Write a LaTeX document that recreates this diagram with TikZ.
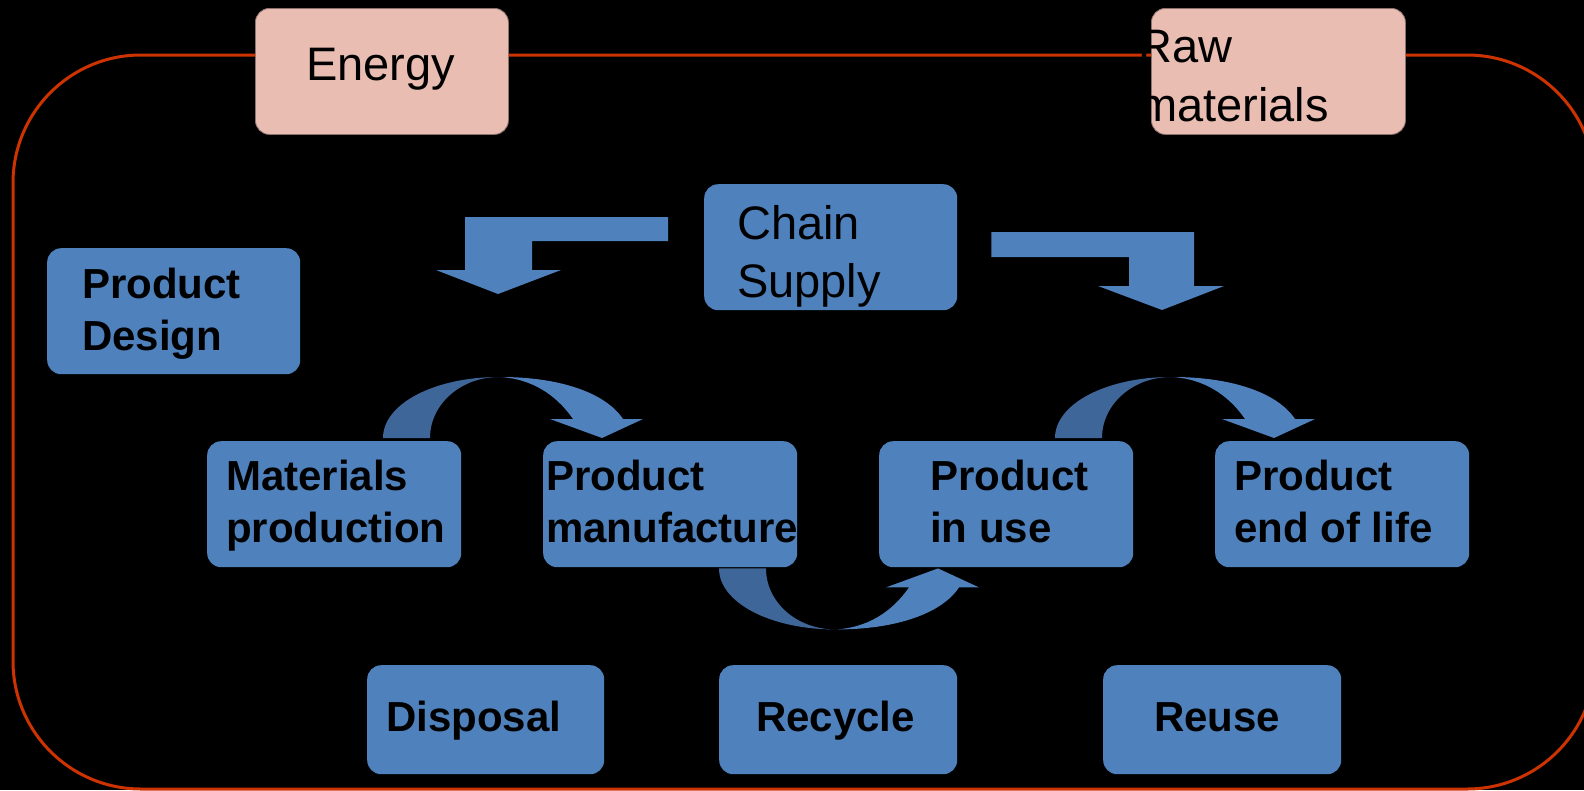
\documentclass[tikz,border=0pt]{standalone}
\usepackage{fontspec}
\setmainfont{Liberation Sans}
\usetikzlibrary{calc}
\definecolor{boxblue}{RGB}{79,129,189}
\definecolor{darkblue}{RGB}{62,102,152}
\definecolor{pinkfill}{RGB}{233,189,178}
\definecolor{pinkedge}{RGB}{140,115,110}
\definecolor{redline}{RGB}{204,51,0}
\tikzset{
  bluebox/.style={fill=boxblue, rounded corners=14pt, minimum width=254pt, minimum height=126pt, anchor=north west, inner sep=0pt},
  smallbox/.style={bluebox, minimum width=238pt, minimum height=109pt},
  pinkbox/.style={fill=pinkfill, draw=pinkedge, line width=0.8pt, rounded corners=14pt, minimum width=253pt, minimum height=126pt, anchor=north west, inner sep=0pt},
  btext/.style={anchor=base west, inner sep=0pt, font=\fontsize{42}{50}\selectfont\bfseries, text=black},
  rtext/.style={anchor=base west, inner sep=0pt, font=\fontsize{47}{56}\selectfont, text=black},
}
\newcommand{\CurvArrowShape}{%
  \fill[darkblue] (0,0) .. controls (0,-34) and (51,-61) .. (116,-61)
     .. controls (78,-61) and (47,-34) .. (47,0) -- cycle;
  \fill[boxblue] (118,-61) .. controls (175,-61) and (222,-46) .. (240,-19)
     -- (260,-19) -- (219,0) -- (167,-19) -- (190,-19)
     .. controls (172,-45) and (147,-59) .. (118,-61) -- cycle;
}
\begin{document}
\begin{tikzpicture}[x=1pt,y=-1pt]
\useasboundingbox (0,0) rectangle (1584,790);
\fill[black] (0,0) rectangle (1584,790);
\begin{scope}
\clip (0,0) rectangle (1584,790);
\draw[redline, line width=3pt, rounded corners=128pt] (13,55) rectangle (1595,789);
\end{scope}

% pink boxes
\node[pinkbox] (en) at (255,8) {};
\node[pinkbox, minimum width=254pt] (rm) at (1151,8) {};
\node[rtext] (ent) at (306,80) {Energy};
\node[rtext] (rmt1) at (1138,62) {Raw};
\node[rtext] (rmt2) at (1138,121) {materials};

% chain supply
\node[bluebox, minimum width=253pt] (cs) at (704,184) {};
\node[rtext] (cst1) at (737,239) {Chain};
\node[rtext] (cst2) at (737,297) {Supply};

% product design
\node[bluebox, minimum width=253pt] (pd) at (47,248) {};
\node[btext] (pdt1) at (82,298) {Product};
\node[btext] (pdt2) at (82,350) {Design};

% main row
\node[bluebox] (mp) at (207,441) {};
\node[btext] (mpt1) at (226,490) {Materials};
\node[btext] (mpt2) at (226,542) {production};
\node[bluebox] (pm) at (543,441) {};
\node[btext] (pmt1) at (546,490) {Product};
\node[btext] (pmt2) at (546,542) {manufacture};
\node[bluebox] (pu) at (879,441) {};
\node[btext] (put1) at (930,490) {Product};
\node[btext] (put2) at (930,542) {in use};
\node[bluebox] (pe) at (1215,441) {};
\node[btext] (pet1) at (1234,490) {Product};
\node[btext] (pet2) at (1234,542) {end of life};

% bottom row
\node[smallbox, minimum width=237pt] (ds) at (367,665) {};
\node[btext] (dst) at (386,731) {Disposal};
\node[smallbox] (rc) at (719,665) {};
\node[btext] (rct) at (756,731) {Recycle};
\node[smallbox] (ru) at (1103,665) {};
\node[btext] (rut) at (1154,731) {Reuse};

% bent arrows from chain supply
\fill[boxblue] (cs.west |- 0,217) ++(-36,0) coordinate (la) -- (465,217) -- (465,270) -- (436,270) -- (498,294)
  -- (561,270) -- (532,270) -- (532,241) -- (la |- 0,241) -- cycle;
\fill[boxblue] (cs.east |- 0,232) ++(34,0) coordinate (ra) -- (1194,232) -- (1194,286) -- (1224,286) -- (1162,310)
  -- (1098,286) -- (1129,286) -- (1129,257) -- (ra |- 0,257) -- cycle;

% curved arrows
\begin{scope}[shift={($(mp.north west)+(176,-3)$)}]
  \CurvArrowShape
\end{scope}
\begin{scope}[shift={($(pu.north west)+(176,-3)$)}]
  \CurvArrowShape
\end{scope}
\begin{scope}[shift={($(pm.south west)+(176,1)$)}, yscale=-1]
  \CurvArrowShape
\end{scope}
\end{tikzpicture}
\end{document}
